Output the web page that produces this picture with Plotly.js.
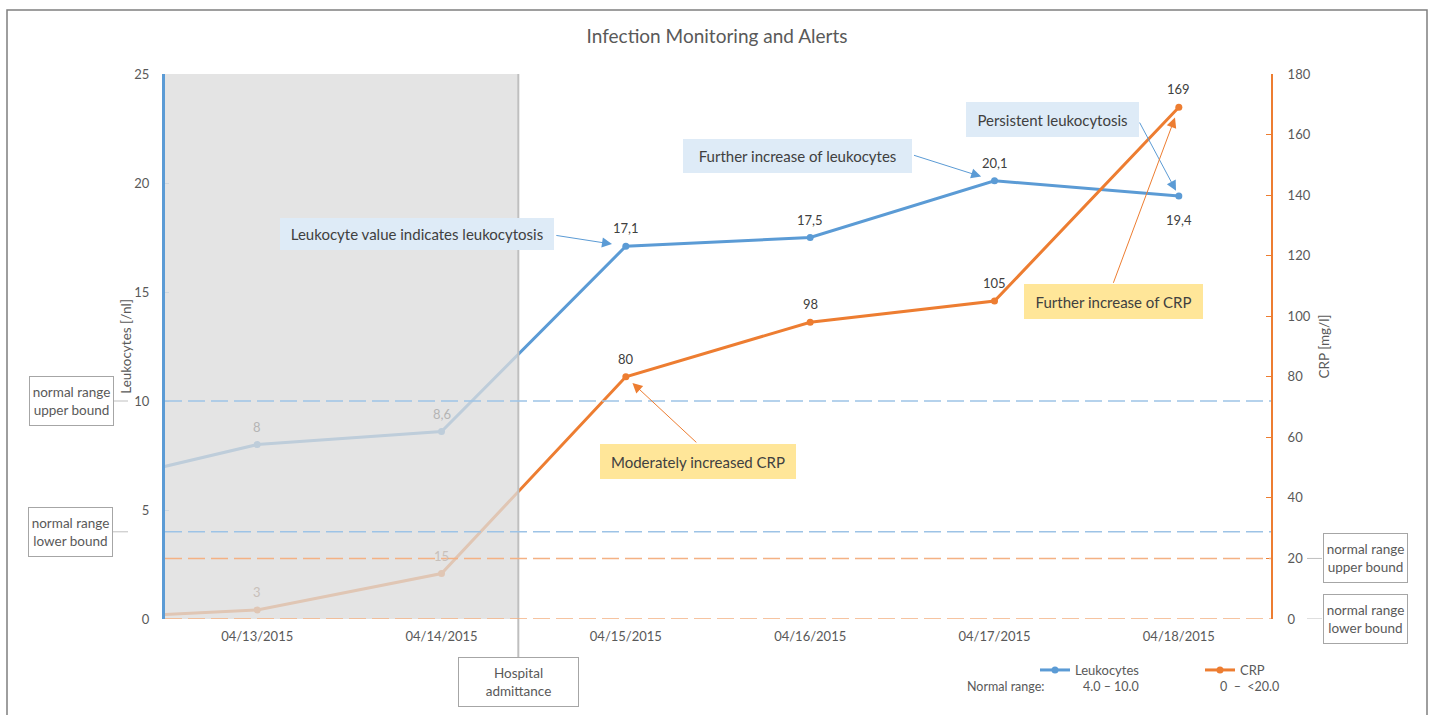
<!DOCTYPE html>
<html>
<head>
<meta charset="utf-8">
<script src="https://cdn.plot.ly/plotly-3.0.1.min.js"></script>
<style>html,body{margin:0;padding:0;background:#fff;}#chart{width:1434px;height:715px;}</style>
</head>
<body>
<div id="chart"></div>
<script>
// ---- data ----
const dates = ['2015-04-12', '2015-04-13', '2015-04-14', '2015-04-15', '2015-04-16', '2015-04-17', '2015-04-18'];
const leukocytes = [6, 8, 8.6, 17.1, 17.5, 20.1, 19.4];
const crp = [0, 3, 15, 80, 98, 105, 169];
const leukNormal = [4.0, 10.0];
const crpNormal = [0, 20];
const admission = '2015-04-14 10:00';
const xRange = ['2015-04-12 12:00', '2015-04-18 12:00'];
const leukRange = [0, 25];
const crpRange = [0, 180];

// ---- geometry helpers (pixel -> paper) ----
const L = 165, T = 74, W = 1106, H = 545;
const px = x => (x - L) / W;
const py = y => (T + H - y) / H;

const FONT = 'Lato, "Open Sans", sans-serif';
const BLUE = '#5b9bd5', ORANGE = '#ed7d31';
const TXT = '#595959', DARK = '#404040';

const fmt = v => String(v).replace('.', ',');

const traces = [
  {
    name: 'Leukocytes', x: dates, y: leukocytes, yaxis: 'y', type: 'scatter', mode: 'lines+markers',
    line: {color: BLUE, width: 3}, marker: {color: BLUE, size: 7}, hoverinfo: 'x+y'
  },
  {
    name: 'CRP', x: dates, y: crp, yaxis: 'y2', type: 'scatter', mode: 'lines+markers',
    line: {color: ORANGE, width: 3}, marker: {color: ORANGE, size: 7}, hoverinfo: 'x+y'
  }
];

const shapes = [];
// outer frame
shapes.push({type: 'rect', xref: 'paper', yref: 'paper', x0: px(7), x1: px(1427), y0: py(10), y1: py(730),
  line: {color: '#7f7f7f', width: 1.5}, fillcolor: 'rgba(0,0,0,0)', layer: 'below'});
// pre-admission overlay
shapes.push({type: 'rect', xref: 'x', yref: 'paper', x0: xRange[0], x1: admission, y0: 0, y1: 1,
  line: {width: 0}, fillcolor: 'rgba(220,220,220,0.77)', layer: 'above'});
// admission line
shapes.push({type: 'line', xref: 'x', yref: 'paper', x0: admission, x1: admission, y0: py(657), y1: 1,
  line: {color: '#bfbfbf', width: 2}, layer: 'above'});
// normal range dashed lines + connectors
leukNormal.forEach(v => {
  shapes.push({type: 'line', xref: 'paper', yref: 'y', x0: 0, x1: 1, y0: v, y1: v,
    line: {color: '#9dc3e6', width: 1.5, dash: '17px,6px'}, layer: 'above'});
  shapes.push({type: 'line', xref: 'paper', yref: 'y', x0: px(113), x1: px(128), y0: v, y1: v,
    line: {color: '#bfbfbf', width: 1}, layer: 'above'});
});
crpNormal.forEach(v => {
  shapes.push({type: 'line', xref: 'paper', yref: 'y2', x0: 0, x1: 1, y0: v, y1: v,
    line: {color: '#f4b183', width: 1.5, dash: '17px,6px'}, layer: 'above'});
  shapes.push({type: 'line', xref: 'paper', yref: 'y2', x0: px(1307), x1: px(1322), y0: v, y1: v,
    line: {color: '#bfbfbf', width: 1}, layer: 'above'});
});

const annotations = [];
// data labels
const admitTime = new Date(admission.replace(' ', 'T')).getTime();
const isPre = d => new Date(d + 'T00:00').getTime() < admitTime;
dates.forEach((d, i) => {
  if (i === 0) return; // outside visible range
  const last = i === dates.length - 1;
  annotations.push({x: d, y: leukocytes[i], xref: 'x', yref: 'y', text: fmt(leukocytes[i]), showarrow: false,
    yshift: last ? -24 : 18, font: {family: FONT, size: 13, color: isPre(d) ? '#b4b4b4' : DARK}});
  annotations.push({x: d, y: crp[i], xref: 'x', yref: 'y2', text: fmt(crp[i]), showarrow: false,
    yshift: 18, font: {family: FONT, size: 13, color: isPre(d) ? '#c8c0ba' : DARK}});
});

// normal range boxes
const rangeBox = (x, yref, v, text) => ({
  xref: 'paper', yref: yref, x: px(x), y: v, text: text, showarrow: false, xanchor: 'center', yanchor: 'middle',
  width: 83, height: 48, bgcolor: '#ffffff', bordercolor: '#a6a6a6', borderwidth: 1, borderpad: 0,
  font: {family: FONT, size: 13.5, color: TXT}
});
annotations.push(rangeBox(71, 'y', leukNormal[1], 'normal range<br>upper bound'));
annotations.push(rangeBox(70, 'y', leukNormal[0], 'normal range<br>lower bound'));
annotations.push(rangeBox(1365, 'y2', crpNormal[1], 'normal range<br>upper bound'));
annotations.push(rangeBox(1365, 'y2', crpNormal[0], 'normal range<br>lower bound'));

// hospital admittance box
annotations.push({xref: 'x', yref: 'paper', x: admission, y: py(682), text: 'Hospital<br>admittance', showarrow: false,
  xanchor: 'center', yanchor: 'middle', width: 119, height: 48, bgcolor: '#ffffff', bordercolor: '#a6a6a6',
  borderwidth: 1, borderpad: 0, font: {family: FONT, size: 13.5, color: TXT}});

// callout boxes
const callout = (x0, x1, y0, y1, text, bg) => ({
  xref: 'paper', yref: 'paper', x: px((x0 + x1) / 2), y: py((y0 + y1) / 2), text: text, showarrow: false,
  xanchor: 'center', yanchor: 'middle', width: x1 - x0, height: y1 - y0, bgcolor: bg, borderpad: 0,
  borderwidth: 0, font: {family: FONT, size: 15, color: DARK}
});
const LB = '#deebf7', YB = '#ffe699';
annotations.push(callout(280, 554, 218, 250, 'Leukocyte value indicates leukocytosis', LB));
annotations.push(callout(683, 912, 139, 173, 'Further increase of leukocytes', LB));
annotations.push(callout(966, 1139, 102, 137, 'Persistent leukocytosis', LB));
annotations.push(callout(600, 796, 444, 479, 'Moderately increased CRP', YB));
annotations.push(callout(1024, 1203, 284, 319, 'Further increase of CRP', YB));

// callout arrows pointing at data points
const arrow = (i, vals, yref, ax, ay, standoff, color) => ({
  x: dates[i], y: vals[i], xref: 'x', yref: yref, text: '', showarrow: true, ax: ax, ay: ay,
  arrowhead: 2, arrowsize: 2, arrowwidth: 1, arrowcolor: color, standoff: standoff
});
annotations.push(arrow(3, leukocytes, 'y', -71, -11, 14, BLUE));
annotations.push(arrow(5, leukocytes, 'y', -82, -26, 14, BLUE));
annotations.push(arrow(6, leukocytes, 'y', -40, -75, 6, BLUE));
annotations.push(arrow(3, crp, 'y2', 72, 67, 9, ORANGE));
annotations.push(arrow(6, crp, 'y2', -66, 177, 11, ORANGE));

// legend normal range row
const legTxt = (x, text) => ({xref: 'paper', yref: 'paper', x: px(x), y: py(686), xanchor: 'left', yanchor: 'middle',
  text: text, showarrow: false, font: {family: FONT, size: 12.5, color: TXT}});
annotations.push(legTxt(965, 'Normal range:'));
annotations.push(legTxt(1081, leukNormal[0].toFixed(1) + ' \u2013 ' + leukNormal[1].toFixed(1)));
annotations.push(legTxt(1218, crpNormal[0] + '\u00a0\u00a0\u2013\u00a0\u00a0<' + crpNormal[1].toFixed(1)));

const layout = {
  width: 1434, height: 715,
  margin: {l: L, r: 1434 - L - W, t: T, b: 715 - T - H},
  paper_bgcolor: '#ffffff', plot_bgcolor: '#ffffff',
  font: {family: FONT, size: 13, color: TXT},
  title: {text: 'Infection Monitoring and Alerts', font: {family: FONT, size: 19, color: TXT},
    x: 0.5, xanchor: 'center', y: 1 - 36 / 715, yanchor: 'middle'},
  showlegend: true,
  legend: {orientation: 'h', x: px(1035), xanchor: 'left', y: py(655), yanchor: 'top',
    font: {family: FONT, size: 13, color: TXT}, bgcolor: 'rgba(0,0,0,0)', entrywidth: 120, entrywidthmode: 'pixels',
    itemwidth: 30},
  xaxis: {type: 'date', range: xRange, tickformat: '%m/%d/%Y', dtick: 86400000, tick0: '2015-04-13',
    showgrid: false, zeroline: false, showline: false, ticks: '', ticklabelstandoff: 8,
    tickfont: {family: FONT, size: 13, color: TXT}, fixedrange: true},
  yaxis: {range: leukRange, dtick: 5, showgrid: false, zeroline: false, showline: true, linecolor: BLUE, linewidth: 3,
    ticks: 'inside', ticklen: 4, tickcolor: '#9dc3e6', tickwidth: 1, ticklabelstandoff: 10,
    tickfont: {family: FONT, size: 13, color: TXT},
    title: {text: 'Leukocytes [/nl]', font: {family: FONT, size: 13.5, color: TXT}, standoff: 0}},
  yaxis2: {range: crpRange, dtick: 20, overlaying: 'y', side: 'right', showgrid: false, zeroline: false,
    showline: true, linecolor: ORANGE, linewidth: 2, ticks: 'inside', ticklen: 5, tickcolor: ORANGE, tickwidth: 1,
    ticklabelstandoff: 12, tickfont: {family: FONT, size: 13, color: TXT},
    title: {text: 'CRP [mg/l]', font: {family: FONT, size: 13.5, color: TXT}, standoff: 10}},
  shapes: shapes,
  annotations: annotations
};

Plotly.newPlot('chart', traces, layout, {displayModeBar: false, staticPlot: true});
</script>
</body>
</html>
